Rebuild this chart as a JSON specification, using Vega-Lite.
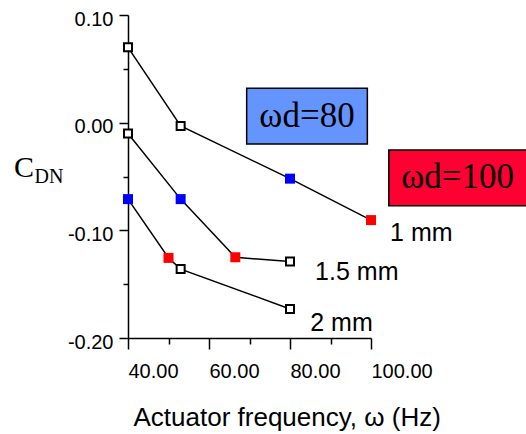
{
  "$schema": "https://vega.github.io/schema/vega-lite/v6.json",
  "width": 243,
  "height": 323,
  "autosize": {"type": "none"},
  "padding": {"left": 128, "top": 15, "right": 155, "bottom": 96},
  "background": "white",
  "config": {"view": {"stroke": null}, "font": "Liberation Sans"},
  "datasets": {
    "pts": [
      {"series": "1 mm", "freq": 40, "cd": 0.070, "kind": "measured"},
      {"series": "1 mm", "freq": 53, "cd": -0.003, "kind": "measured"},
      {"series": "1 mm", "freq": 80, "cd": -0.052, "kind": "ωd=80"},
      {"series": "1 mm", "freq": 100, "cd": -0.0905, "kind": "ωd=100"},
      {"series": "1.5 mm", "freq": 40, "cd": -0.010, "kind": "measured"},
      {"series": "1.5 mm", "freq": 53, "cd": -0.071, "kind": "ωd=80"},
      {"series": "1.5 mm", "freq": 66.5, "cd": -0.125, "kind": "ωd=100"},
      {"series": "1.5 mm", "freq": 80, "cd": -0.129, "kind": "measured"},
      {"series": "2 mm", "freq": 40, "cd": -0.071, "kind": "ωd=80"},
      {"series": "2 mm", "freq": 50, "cd": -0.1256, "kind": "ωd=100"},
      {"series": "2 mm", "freq": 53, "cd": -0.136, "kind": "measured"},
      {"series": "2 mm", "freq": 80, "cd": -0.173, "kind": "measured"}
    ]
  },
  "layer": [
    {
      "data": {"name": "pts"},
      "mark": {"type": "line", "color": "black", "strokeWidth": 1.5},
      "encoding": {
        "x": {"field": "freq", "type": "quantitative",
          "scale": {"domain": [40, 100], "nice": false, "zero": false},
          "axis": {"orient": "bottom", "values": [40, 60, 80, 100], "tickSize": 11, "tickWidth": 1.5, "tickColor": "black",
            "domainColor": "black", "domainWidth": 1.5, "grid": false,
            "labelAlign": "left", "labelBaseline": "top", "labelFlush": false, "labelPadding": 12,
            "labelFont": "Liberation Sans", "labelFontSize": 20, "labelColor": "black",
            "labelExpr": "format(datum.value, '.2f')",
            "title": "Actuator frequency, ω (Hz)", "titleFont": "Liberation Sans", "titleFontSize": 26,
            "titleFontWeight": "normal", "titleColor": "black", "titleAnchor": "start", "titleAlign": "left",
            "titleX": 5, "titlePadding": 23}},
        "y": {"field": "cd", "type": "quantitative",
          "scale": {"domain": [-0.2, 0.1], "nice": false, "zero": false},
          "axis": {"orient": "left", "values": [0.1, 0, -0.1, -0.2], "tickSize": 9, "tickWidth": 1.5, "tickColor": "black",
            "domainColor": "black", "domainWidth": 1.5, "grid": false,
            "labelPadding": 6, "labelOffset": 4, "labelFlush": false,
            "labelFont": "Liberation Sans", "labelFontSize": 20, "labelColor": "black",
            "labelExpr": "replace(format(datum.value, '.2f'), '−', '-')",
            "title": null}},
        "detail": {"field": "series"}
      }
    },
    {
      "data": {"name": "pts"},
      "transform": [{"filter": "datum.kind == 'measured'"}],
      "mark": {"type": "point", "shape": "square", "filled": false, "fill": "white", "fillOpacity": 1, "stroke": "black", "strokeWidth": 2, "size": 64, "opacity": 1},
      "encoding": {
        "x": {"field": "freq", "type": "quantitative",
          "axis": {"orient": "bottom", "values": [50, 70, 90], "tickSize": 6, "tickWidth": 1.5, "tickColor": "black",
            "domain": false, "labels": false, "grid": false, "title": null}},
        "y": {"field": "cd", "type": "quantitative",
          "axis": {"orient": "left", "values": [0.05, -0.05, -0.15], "tickSize": 5, "tickWidth": 1.5, "tickColor": "black",
            "domain": false, "labels": false, "grid": false, "title": null}}
      }
    },
    {
      "data": {"name": "pts"},
      "transform": [{"filter": "datum.kind != 'measured'"}],
      "mark": {"type": "point", "shape": "square", "filled": true, "size": 100, "opacity": 1, "strokeWidth": 0},
      "encoding": {
        "x": {"field": "freq", "type": "quantitative", "axis": null},
        "y": {"field": "cd", "type": "quantitative", "axis": null},
        "color": {"field": "kind", "type": "nominal",
          "scale": {"domain": ["ωd=80", "ωd=100"], "range": ["#0000FF", "#FF0000"]}, "legend": null}
      }
    },
    {
      "data": {"values": [
        {"label": "1 mm", "x": 104.7, "y": -0.1026},
        {"label": "1.5 mm", "x": 86.2, "y": -0.139},
        {"label": "2 mm", "x": 85, "y": -0.186}
      ]},
      "mark": {"type": "text", "align": "left", "baseline": "middle", "font": "Liberation Sans", "fontSize": 25, "color": "black", "clip": false},
      "encoding": {
        "x": {"field": "x", "type": "quantitative", "axis": null},
        "y": {"field": "y", "type": "quantitative", "axis": null},
        "text": {"field": "label"}
      }
    },
    {
      "data": {"values": [
        {"x": 69.3, "x2": 99.1, "y": 0.032, "y2": -0.0198, "c": "b"},
        {"x": 104.4, "x2": 140, "y": -0.0254, "y2": -0.0772, "c": "r"}
      ]},
      "mark": {"type": "rect", "stroke": "black", "strokeWidth": 1.5, "clip": false},
      "encoding": {
        "x": {"field": "x", "type": "quantitative", "axis": null},
        "x2": {"field": "x2"},
        "y": {"field": "y", "type": "quantitative", "axis": null},
        "y2": {"field": "y2"},
        "fill": {"field": "c", "type": "nominal", "scale": {"domain": ["b", "r"], "range": ["#6495FF", "#FF0033"]}, "legend": null}
      }
    },
    {
      "data": {"values": [
        {"label": "ωd=80", "x": 84.2, "y": 0.006, "s": 35},
        {"label": "ωd=100", "x": 121.4, "y": -0.0502, "s": 35},
        {"label": "C", "x": 14.3, "y": -0.042, "s": 30},
        {"label": "DN", "x": 20.5, "y": -0.0505, "s": 20}
      ]},
      "mark": {"type": "text", "align": "center", "baseline": "middle", "font": "Liberation Serif", "color": "black", "clip": false},
      "encoding": {
        "x": {"field": "x", "type": "quantitative", "axis": null},
        "y": {"field": "y", "type": "quantitative", "axis": null},
        "text": {"field": "label"},
        "size": {"field": "s", "type": "quantitative", "scale": null, "legend": null}
      }
    }
  ],
  "resolve": {"axis": {"x": "independent", "y": "independent"}}
}
